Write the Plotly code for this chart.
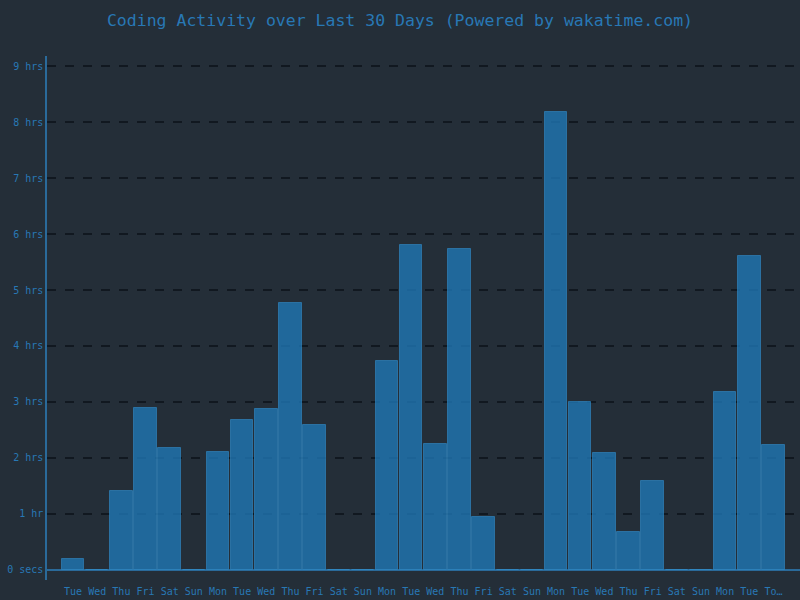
import plotly.graph_objects as go

days = ["Tue", "Wed", "Thu", "Fri", "Sat", "Sun", "Mon", "Tue", "Wed", "Thu",
        "Fri", "Sat", "Sun", "Mon", "Tue", "Wed", "Thu", "Fri", "Sat", "Sun",
        "Mon", "Tue", "Wed", "Thu", "Fri", "Sat", "Sun", "Mon", "Tue", "To…"]
hours = [0.2, 0, 1.41, 2.89, 2.18, 0, 2.11, 2.68, 2.87, 4.77,
         2.59, 0, 0, 3.73, 5.80, 2.25, 5.73, 0.95, 0, 0,
         8.18, 3.0, 2.09, 0.68, 1.59, 0, 0, 3.18, 5.61, 2.23]
y_tick_vals = [0, 1, 2, 3, 4, 5, 6, 7, 8, 9]
y_tick_text = ["0 secs", "1 hr", "2 hrs", "3 hrs", "4 hrs", "5 hrs", "6 hrs", "7 hrs", "8 hrs", "9 hrs"]

idx = list(range(len(days)))

fig = go.Figure(go.Bar(
    x=idx, y=hours, width=0.93,
    marker=dict(color="rgba(31,119,180,0.8)", line=dict(color="rgba(50,140,200,0.6)", width=1)),
))

font = "DejaVu Sans Mono, monospace"
fig.update_layout(
    width=800, height=600,
    paper_bgcolor="#242e38", plot_bgcolor="#242e38",
    margin=dict(l=47, r=0, t=56, b=20),
    title=dict(text="Coding Activity over Last 30 Days (Powered by wakatime.com)",
               x=0.5, xanchor="center", y=0.967, yanchor="middle",
               font=dict(family=font, size=16.5, color="#2878b5")),
    font=dict(family=font, size=10, color="#2878b5"),
    showlegend=False,
    bargap=0,
)
fig.update_xaxes(
    range=[-1.08, 30.1], tickmode="array", tickvals=idx, ticktext=days,
    showgrid=False, zeroline=False, showline=False, ticks="",
    ticklabelstandoff=4,
    tickfont=dict(family=font, size=10, color="#2878b5"),
)
fig.update_yaxes(
    range=[-0.18, 9.18], tickmode="array", tickvals=y_tick_vals, ticktext=y_tick_text,
    showgrid=True, gridcolor="#111820", griddash="dash", gridwidth=1.5,
    zeroline=True, zerolinecolor="#2a6a9a", zerolinewidth=1.5,
    showline=True, linecolor="#2a6a9a", linewidth=1.5, ticks="",
    tickfont=dict(family=font, size=10, color="#2878b5"),
)

fig.write_html("out.html", config={"displayModeBar": False},
               post_script="document.body.style.margin='0';document.body.style.background='#242e38';")
